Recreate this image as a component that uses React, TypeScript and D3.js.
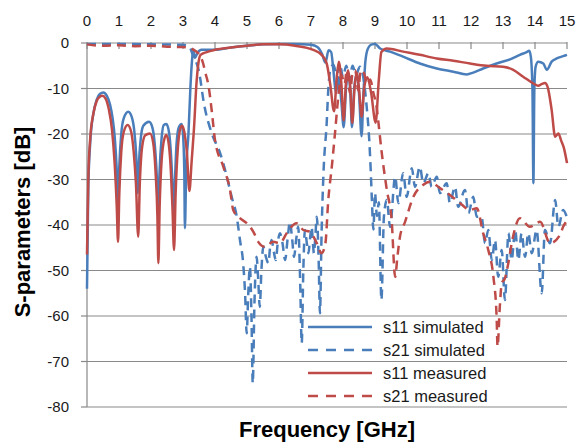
import React from "react";
import * as d3 from "d3";

const xTicks = [0, 1, 2, 3, 4, 5, 6, 7, 8, 9, 10, 11, 12, 13, 14, 15];
const yTicks = [0, -10, -20, -30, -40, -50, -60, -70, -80];

const s11Sim: [number, number][] = [
  [0, -54], [0.04, -32], [0.1, -22], [0.2, -15.5], [0.3, -12.5], [0.4, -11.2], [0.51, -10.9],
  [0.62, -11.6], [0.72, -13.5], [0.8, -16.5], [0.87, -21], [0.93, -28], [0.97, -36], [1.01, -27],
  [1.07, -20], [1.15, -16.5], [1.29, -15.1], [1.4, -16.3], [1.48, -19.5], [1.54, -25], [1.59, -33],
  [1.62, -27], [1.68, -21], [1.76, -18.2], [1.94, -17.3], [2.04, -18.5], [2.12, -22.5], [2.18, -29],
  [2.23, -37], [2.27, -28], [2.33, -21], [2.4, -18], [2.48, -17.8], [2.56, -19.5], [2.62, -24],
  [2.67, -31], [2.71, -38.5], [2.75, -30], [2.8, -22], [2.87, -18.5], [2.96, -17.8], [3.0, -20],
  [3.04, -28], [3.06, -40.7], [3.1, -28], [3.17, -20], [3.23, -10], [3.28, -4], [3.32, -1.5],
  [3.37, -3.3], [3.45, -2.2], [3.58, -1.5], [4.0, -1.5], [4.5, -1.0], [5.0, -0.6], [5.5, -0.3],
  [6.0, -0.2], [6.5, -0.2], [7.0, -0.4], [7.2, -0.9], [7.35, -2.5], [7.45, -4.3], [7.55, -1.6],
  [7.63, -2], [7.7, -6], [7.78, -11], [7.86, -7.5], [7.95, -13], [8.02, -18.5], [8.1, -9.5],
  [8.17, -6.7], [8.23, -11], [8.28, -18.5], [8.35, -10], [8.43, -6.8], [8.5, -11], [8.58, -20.5],
  [8.64, -11], [8.7, -4], [8.78, -1.2], [8.9, -0.3], [9.0, -0.2], [9.16, -1.2], [9.47, -1.9],
  [9.88, -3], [10.4, -4.5], [10.93, -5.6], [11.45, -6.3], [11.87, -6.9], [12.07, -6.5],
  [12.38, -5.6], [12.8, -4.5], [13.22, -3.6], [13.53, -2.6], [13.74, -2], [13.82, -1.7],
  [13.87, -3], [13.92, -10], [13.95, -30.8], [13.98, -10], [14.02, -5.2], [14.1, -4.1],
  [14.26, -4.5], [14.37, -5.9], [14.52, -4.1], [14.68, -3.4], [14.88, -2.9], [15.0, -2.6],
];

const s21Sim: [number, number][] = [
  [0, -0.2], [1, -0.2], [2, -0.3], [3, -0.4], [3.2, -0.8], [3.3, -2.5], [3.5, -6.3], [3.66, -13.5],
  [3.9, -19.9], [4.16, -24.2], [4.37, -29.4], [4.52, -33.8], [4.68, -38.2], [4.78, -43.3],
  [4.88, -48.4], [4.94, -55], [4.99, -63.8], [5.04, -55], [5.09, -49.2], [5.14, -60], [5.18, -74.8],
  [5.23, -58], [5.3, -47], [5.35, -52], [5.4, -58], [5.45, -50], [5.51, -44.8], [5.59, -47],
  [5.67, -48.4], [5.72, -45], [5.77, -43.3], [5.84, -46], [5.9, -47.7], [5.96, -44], [6.03, -41.8],
  [6.11, -44], [6.19, -47.7], [6.27, -43], [6.34, -39.3], [6.41, -43], [6.47, -47], [6.54, -43],
  [6.6, -40.4], [6.66, -52], [6.71, -66], [6.76, -50], [6.81, -41.1], [6.87, -44], [6.92, -46.2],
  [6.97, -43], [7.02, -40.4], [7.06, -44], [7.09, -46.2], [7.14, -42], [7.18, -38.2], [7.24, -48],
  [7.28, -59.4], [7.33, -42], [7.39, -28.6], [7.49, -17.6], [7.54, -10.3], [7.6, -6], [7.7, -4.8],
  [7.8, -7], [7.9, -4.5], [8.0, -7.5], [8.1, -5], [8.2, -8], [8.3, -5], [8.4, -7], [8.53, -5.2],
  [8.62, -7], [8.74, -14], [8.82, -21.3], [8.87, -28.6], [8.9, -34], [8.95, -41], [9.0, -33],
  [9.06, -38], [9.12, -35], [9.2, -56.5], [9.28, -38], [9.37, -34.5], [9.47, -40.4], [9.63, -29.4],
  [9.73, -35.2], [9.88, -28.6], [9.99, -33.8], [10.15, -27.5], [10.25, -31.6], [10.4, -27.2],
  [10.51, -30.8], [10.67, -28.6], [10.77, -31.6], [10.93, -29.4], [11.03, -33], [11.24, -30.8],
  [11.34, -35.2], [11.5, -31.6], [11.6, -36], [11.81, -32.3], [11.92, -37.4], [12.07, -33.8],
  [12.18, -38.2], [12.33, -38.2], [12.44, -44], [12.54, -41.1], [12.65, -47.7], [12.75, -43.3],
  [12.85, -51.4], [12.96, -45.5], [13.06, -56.5], [13.17, -41.8], [13.27, -47.7], [13.38, -41.1],
  [13.48, -47.7], [13.58, -41.8], [13.69, -47], [13.79, -41.8], [13.9, -46.2], [14.05, -41.1],
  [14.21, -55], [14.31, -41.1], [14.47, -44], [14.63, -34.5], [14.73, -40.4], [14.88, -36.7],
  [14.99, -38.2],
];

const s11Meas: [number, number][] = [
  [0, -46.5], [0.04, -30], [0.1, -21], [0.2, -15.5], [0.3, -12.8], [0.4, -11.8], [0.48, -11.6],
  [0.58, -12.2], [0.68, -14.5], [0.78, -19], [0.86, -26], [0.93, -36], [0.97, -43.7], [1.01, -33],
  [1.07, -24], [1.15, -19.5], [1.27, -18], [1.38, -19.5], [1.46, -24], [1.53, -31], [1.6, -42.6],
  [1.65, -31], [1.72, -23], [1.82, -20.3], [1.97, -19.9], [2.07, -22], [2.14, -28], [2.2, -38],
  [2.23, -48.4], [2.27, -36], [2.33, -26], [2.42, -21], [2.48, -20.2], [2.56, -22.5], [2.62, -28],
  [2.67, -36], [2.72, -45.5], [2.77, -33], [2.84, -23], [2.91, -19], [2.97, -18.2], [3.04, -19.5],
  [3.12, -24], [3.2, -32.5], [3.27, -26], [3.35, -18], [3.42, -9], [3.48, -4.5], [3.55, -2.6],
  [3.74, -2], [4.0, -1.5], [4.5, -1], [5.0, -0.6], [5.5, -0.3], [6.0, -0.3], [6.5, -0.6],
  [7.07, -1.5], [7.33, -2.6], [7.49, -4.5], [7.6, -9], [7.72, -15], [7.8, -8], [7.87, -4.1],
  [7.95, -9], [8.02, -17], [8.09, -9], [8.16, -6], [8.23, -10], [8.29, -17.6], [8.36, -10],
  [8.43, -6.5], [8.5, -10], [8.58, -16.2], [8.66, -10], [8.76, -7.5], [8.88, -11], [9.02, -17.5],
  [9.12, -8], [9.2, -2], [9.37, -1.2], [9.88, -1.9], [10.4, -2.6], [10.93, -3.4], [11.45, -3.9],
  [11.97, -4.5], [12.49, -5], [13.0, -5.2], [13.32, -5.9], [13.63, -7.4], [13.95, -8.9],
  [14.1, -9.4], [14.22, -9.0], [14.31, -8.8], [14.4, -9.8], [14.52, -14.7], [14.63, -20.6],
  [14.73, -19.9], [14.82, -21.5], [14.9, -23], [15.0, -26.4],
];

const s21Meas: [number, number][] = [
  [0, -0.3], [0.5, -0.6], [1, -0.5], [1.5, -0.7], [2, -0.6], [2.5, -0.8], [3.0, -0.9], [3.2, -1.1],
  [3.4, -1.8], [3.55, -3], [3.63, -4.5], [3.69, -6.3], [3.8, -9.5], [3.9, -15], [4.0, -21.3],
  [4.26, -27.2], [4.47, -32.3], [4.57, -36.7], [4.78, -38.5], [4.99, -39.6], [5.2, -41.5],
  [5.35, -43.7], [5.56, -44.8], [5.82, -43.7], [6.03, -44], [6.24, -41.8], [6.55, -39.6],
  [6.76, -41.1], [6.97, -41.5], [7.18, -44], [7.33, -46.2], [7.45, -44], [7.54, -34.5],
  [7.65, -27.2], [7.75, -19.8], [7.85, -12], [7.95, -7], [8.05, -9], [8.12, -6], [8.22, -11],
  [8.3, -6.5], [8.38, -6], [8.48, -10.5], [8.55, -6], [8.65, -6.5], [8.75, -9], [8.85, -8],
  [8.95, -11], [9.05, -14], [9.1, -17], [9.2, -23.5], [9.37, -32.3], [9.52, -38.9], [9.63, -51.4],
  [9.7, -47], [9.78, -42.6], [9.94, -39.3], [10.2, -33.8], [10.5, -31.2], [10.72, -30.5],
  [11.03, -31.9], [11.34, -33.4], [11.66, -35.2], [11.97, -36.7], [12.18, -36.3], [12.38, -41.8],
  [12.54, -45.5], [12.7, -51.4], [12.8, -60.1], [12.83, -66.7], [12.9, -58], [12.96, -52.8],
  [13.06, -51.7], [13.15, -49], [13.3, -43], [13.53, -38.5], [13.84, -40.4], [14.16, -39.3],
  [14.47, -44], [14.78, -42.2], [14.88, -40.4], [15.0, -39],
];

const seriesNames = ["s11 simulated", "s21 simulated", "s11 measured", "s21 measured"];
const seriesData = [s11Sim, s21Sim, s11Meas, s21Meas];
const seriesColors = ["#4A7EBB", "#4A7EBB", "#BE4B48", "#BE4B48"];
const seriesDashed = [false, true, false, true];

const W = 576;
const H = 443;
const FONT = "'Liberation Sans', Arial, sans-serif";

export default function App() {
  const x = d3.scaleLinear().domain([0, 15]).range([87, 567]);
  const y = d3.scaleLinear().domain([-80, 0]).range([407, 43]);
  const line = d3
    .line<[number, number]>()
    .x((d) => x(d[0]))
    .y((d) => y(d[1]))
    .curve(d3.curveMonotoneX);

  const legendX0 = 308;
  const legendX1 = 372;
  const legendY0 = 327;
  const legendStep = 23;

  return (
    <svg
      width={W}
      height={H}
      style={{ position: "absolute", left: 0, top: 0, background: "#fff" }}
      fontFamily={FONT}
    >
      <rect x={0} y={0} width={W} height={H} fill="#fff" />
      {/* horizontal gridlines + y ticks */}
      {yTicks.map((t) => (
        <g key={"y" + t}>
          {t !== 0 && (
            <line x1={x(0)} x2={x(15)} y1={y(t)} y2={y(t)} stroke="#898989" strokeWidth={1.2} />
          )}
          <line x1={x(0) - 6} x2={x(0)} y1={y(t)} y2={y(t)} stroke="#898989" strokeWidth={1.2} />
          <text
            x={69}
            y={y(t)}
            dy="0.36em"
            textAnchor="end"
            fontSize={15}
            fill="#1a1a1a"
          >
            {t}
          </text>
        </g>
      ))}
      {/* top axis */}
      <line x1={x(0)} x2={x(15)} y1={y(0)} y2={y(0)} stroke="#898989" strokeWidth={1.2} />
      <line x1={x(0)} x2={x(0)} y1={y(0)} y2={y(-80)} stroke="#898989" strokeWidth={1.2} />
      {xTicks.map((t) => (
        <g key={"x" + t}>
          <line x1={x(t)} x2={x(t)} y1={y(0) - 1} y2={y(0) + 6} stroke="#898989" strokeWidth={1.2} />
          <text x={x(t)} y={26} textAnchor="middle" fontSize={15} fill="#1a1a1a">
            {t}
          </text>
        </g>
      ))}
      {/* series */}
      {seriesData.map((d, i) => (
        <path
          key={seriesNames[i]}
          d={line(d) || ""}
          fill="none"
          stroke={seriesColors[i]}
          strokeWidth={2.5}
          strokeDasharray={seriesDashed[i] ? "9 6" : undefined}
          strokeLinejoin="round"
        />
      ))}
      {/* legend */}
      {seriesNames.map((name, i) => (
        <g key={"lg" + name}>
          <line
            x1={legendX0}
            x2={legendX1}
            y1={legendY0 + i * legendStep}
            y2={legendY0 + i * legendStep}
            stroke={seriesColors[i]}
            strokeWidth={2.5}
            strokeDasharray={seriesDashed[i] ? "10 8" : undefined}
          />
          <text
            x={383}
            y={legendY0 + i * legendStep}
            dy="0.36em"
            fontSize={16.5}
            fill="#1a1a1a"
          >
            {name}
          </text>
        </g>
      ))}
      {/* axis titles */}
      <text
        x={327}
        y={437}
        textAnchor="middle"
        fontSize={22}
        fontWeight="bold"
        fill="#000"
      >
        Frequency [GHz]
      </text>
      <text
        transform={`translate(30, 222) rotate(-90)`}
        textAnchor="middle"
        fontSize={22}
        fontWeight="bold"
        fill="#000"
      >
        S-parameters [dB]
      </text>
    </svg>
  );
}
